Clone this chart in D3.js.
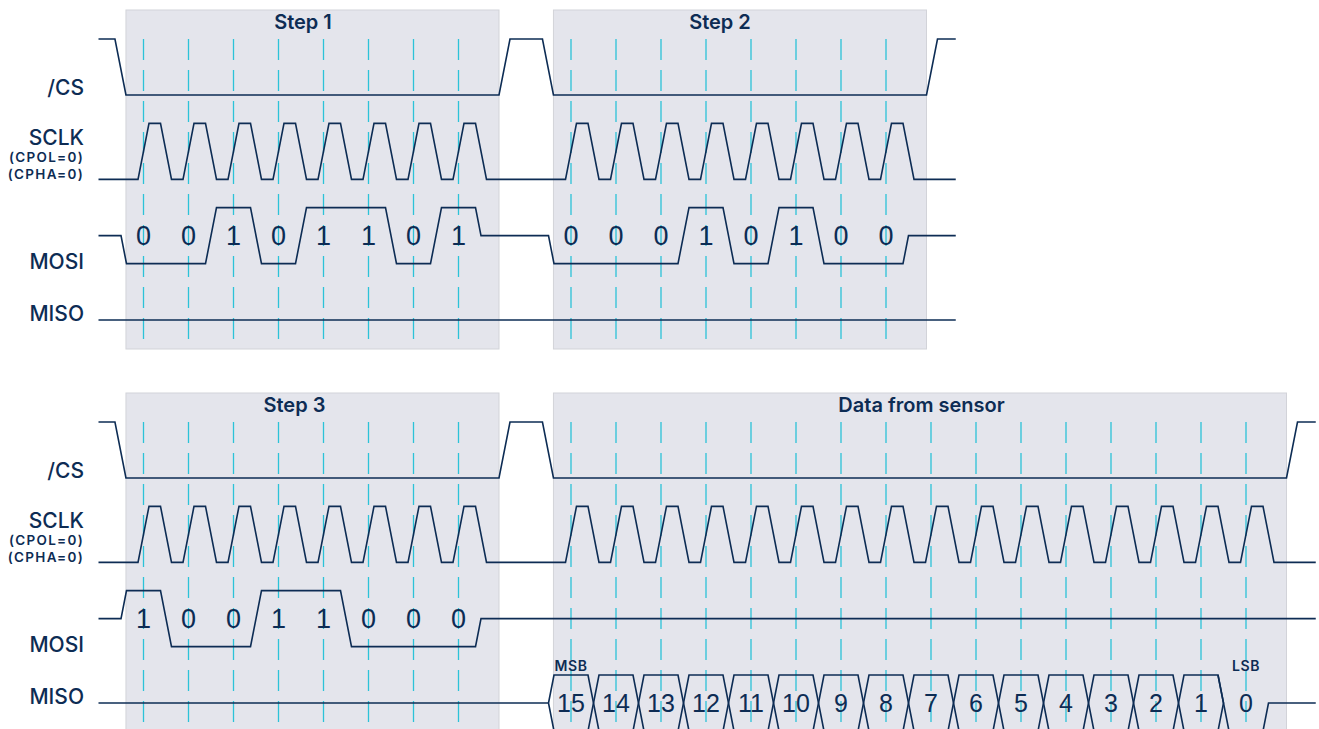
<!DOCTYPE html>
<html>
<head>
<meta charset="utf-8">
<script src="https://cdn.jsdelivr.net/npm/d3@7"></script>
<style>
  html, body { margin: 0; padding: 0; background: #fff; }
  svg { display: block; }
</style>
</head>
<body>
<svg id="chart" width="1319" height="729"></svg>
<script>
// signal names and frame data
var signalNames = ['/CS', 'SCLK', 'MOSI', 'MISO'];
var step1Bits = [0, 0, 1, 0, 1, 1, 0, 1];
var step2Bits = [0, 0, 0, 1, 0, 1, 0, 0];
var step3Bits = [1, 0, 0, 1, 1, 0, 0, 0];
var sensorBitLabels = [15, 14, 13, 12, 11, 10, 9, 8, 7, 6, 5, 4, 3, 2, 1, 0];
var frameTitles = ['Step 1', 'Step 2', 'Step 3', 'Data from sensor'];
var frameStarts = [0, 9.5, 0, 9.5]; // in bit periods

var navy = '#0d2c54', cyan = '#2cc2d8';
var svg = d3.select('#chart');

// x in bit periods, y: row index, levels 0 = low, 1 = high, 0.5 = idle/mid
var x = d3.scaleLinear().domain([0, 1]).range([121, 166]);
var yRow = d3.scaleLinear().domain([0, 3]).range([95, 348]);
var yLvl = d3.scaleLinear().domain([0, 1]).range([0, -56]);
var e = 11 / 45; // edge width in bit periods

var panels = [
  {dy: 0, frames: [
    {title: frameTitles[0], start: frameStarts[0], n: step1Bits.length, mosi: step1Bits, dx: -9.5},
    {title: frameTitles[1], start: frameStarts[1], n: step2Bits.length, mosi: step2Bits, dx: -20}
  ], misoBus: false, boxBottom: 349},
  {dy: 383, frames: [
    {title: frameTitles[2], start: frameStarts[2], n: step3Bits.length, mosi: step3Bits, dx: -18},
    {title: frameTitles[3], start: frameStarts[3], n: sensorBitLabels.length, mosi: null, dx: 1.5}
  ], misoBus: true, boxBottom: 740}
];

var labelStyle = [
  {t: signalNames[0], y: 95, size: 21, w: 550},
  {t: signalNames[1], y: 145, size: 21, w: 550},
  {t: '(CPOL=0)', y: 162, size: 13.5, ls: 1.3, w: 600},
  {t: '(CPHA=0)', y: 178.5, size: 13.5, ls: 1.3, w: 600},
  {t: signalNames[2], y: 269, size: 21, w: 550},
  {t: signalNames[3], y: 321, size: 21, w: 550}
];

panels.forEach(function(p) {
  var g = svg.append('g').attr('transform', 'translate(0,' + p.dy + ')');
  var last = p.frames[p.frames.length - 1];
  var wireEnd = last.start + last.n + 1.05;
  var wireStart = -0.5;
  var Y = function(row, lvl) { return yRow(row) + yLvl(lvl); };
  var line = function(row) {
    return d3.line().x(function(d) { return x(d[0]); }).y(function(d) { return Y(row, d[1]); });
  };

  // frame boxes
  p.frames.forEach(function(f) {
    f.l = f.start + 0.11;
    f.r = f.start + f.n + 0.4;
    g.append('rect')
      .attr('x', x(f.l)).attr('y', 10)
      .attr('width', x(f.r) - x(f.l)).attr('height', p.boxBottom - 10)
      .attr('fill', '#e4e5ec').attr('stroke', '#d2d3d9').attr('stroke-width', 1);
    g.append('text')
      .attr('x', (x(f.l) + x(f.r)) / 2 + f.dx).attr('y', 29)
      .attr('text-anchor', 'middle')
      .attr('font-family', 'Inter, sans-serif').attr('font-weight', 600).attr('font-size', 20)
      .attr('fill', navy).text(f.title);
    // dashed bit markers
    d3.range(f.n).forEach(function(i) {
      g.append('line')
        .attr('x1', x(f.start + i + 0.5)).attr('x2', x(f.start + i + 0.5))
        .attr('y1', Y(0, 1)).attr('y2', Math.min(p.boxBottom, 729 - p.dy))
        .attr('stroke', cyan).attr('stroke-width', 1.3).attr('stroke-dasharray', '21,10');
    });
  });

  // /CS
  var cs = [[wireStart, 1]];
  p.frames.forEach(function(f) {
    cs.push([f.l - e, 1], [f.l, 0], [f.r, 0], [f.r + e, 1]);
  });
  cs.push([wireEnd, 1]);

  // SCLK
  var clk = [[wireStart, 0]];
  p.frames.forEach(function(f) {
    d3.range(f.n).forEach(function(i) {
      var c = f.start + i + 0.5;
      clk.push([c - e / 2, 0], [c + e / 2, 1], [c + 0.5 - e / 2, 1], [c + 0.5 + e / 2, 0]);
    });
  });
  clk.push([wireEnd, 0]);

  // MOSI
  var mosi = [[wireStart, 0.5]];
  p.frames.forEach(function(f) {
    if (!f.mosi) return;
    var b = f.mosi;
    mosi.push([f.start, 0.5], [f.start + e / 2, b[0]]);
    for (var i = 1; i < b.length; i++) {
      if (b[i] !== b[i - 1]) mosi.push([f.start + i - e / 2, b[i - 1]], [f.start + i + e / 2, b[i]]);
    }
    var end = f.start + f.n;
    mosi.push([end - e / 2, b[b.length - 1]], [end, 0.5]);
  });
  mosi.push([wireEnd, 0.5]);

  [[0, cs], [1, clk], [2, mosi]].forEach(function(s) {
    g.append('path').attr('d', line(s[0])(s[1]))
      .attr('fill', 'none').attr('stroke', navy).attr('stroke-width', 1.6).attr('stroke-linejoin', 'miter');
  });

  // MOSI bit values
  p.frames.forEach(function(f) {
    if (!f.mosi) return;
    g.selectAll(null).data(f.mosi).enter().append('text')
      .attr('x', function(d, i) { return x(f.start + i + 0.5); })
      .attr('y', Y(2, 0.5) + 9.5)
      .attr('text-anchor', 'middle')
      .attr('font-family', '"Liberation Sans", Arial, sans-serif').attr('font-size', 27)
      .attr('fill', navy).text(function(d) { return d; });
  });

  // MISO
  if (!p.misoBus) {
    g.append('path').attr('d', line(3)([[wireStart, 0.5], [wireEnd, 0.5]]))
      .attr('fill', 'none').attr('stroke', navy).attr('stroke-width', 1.6);
  } else {
    var f = last;
    g.append('path').attr('d', line(3)([[wireStart, 0.5], [f.start, 0.5]]))
      .attr('fill', 'none').attr('stroke', navy).attr('stroke-width', 1.6);
    sensorBitLabels.forEach(function(lab, i) {
      var L = f.start + i, R = L + 1, pts;
      if (i < sensorBitLabels.length - 1) {
        pts = [[L, 0.5], [L + e / 2, 1], [R - e / 2, 1], [R, 0.5], [R - e / 2, 0], [L + e / 2, 0], [L, 0.5]];
      } else {
        pts = [[L - e / 2, 1], [L + e / 2, 0], [R - e / 2, 0], [R, 0.5], [wireEnd, 0.5]];
      }
      g.append('path').attr('d', line(3)(pts))
        .attr('fill', 'none').attr('stroke', navy).attr('stroke-width', 1.6);
      g.append('text')
        .attr('x', x(L + 0.5)).attr('y', Y(3, 0.5) + 8.5)
        .attr('text-anchor', 'middle')
        .attr('font-family', '"Liberation Sans", Arial, sans-serif').attr('font-size', 25)
        .attr('fill', navy).text(lab);
    });
    [['MSB', 0], ['LSB', sensorBitLabels.length - 1]].forEach(function(m) {
      g.append('text')
        .attr('x', x(f.start + m[1] + 0.5)).attr('y', Y(3, 1) - 4.5)
        .attr('text-anchor', 'middle')
        .attr('font-family', 'Inter, sans-serif').attr('font-weight', 600).attr('font-size', 14)
        .attr('letter-spacing', 0.6)
        .attr('fill', navy).text(m[0]);
    });
  }

  // row labels
  labelStyle.forEach(function(l) {
    g.append('text')
      .attr('x', 84).attr('y', l.y)
      .attr('text-anchor', 'end')
      .attr('font-family', 'Inter, sans-serif').attr('font-weight', l.w).attr('font-size', l.size)
      .attr('letter-spacing', l.ls || 0)
      .attr('fill', navy).text(l.t);
  });
});
</script>
</body>
</html>
